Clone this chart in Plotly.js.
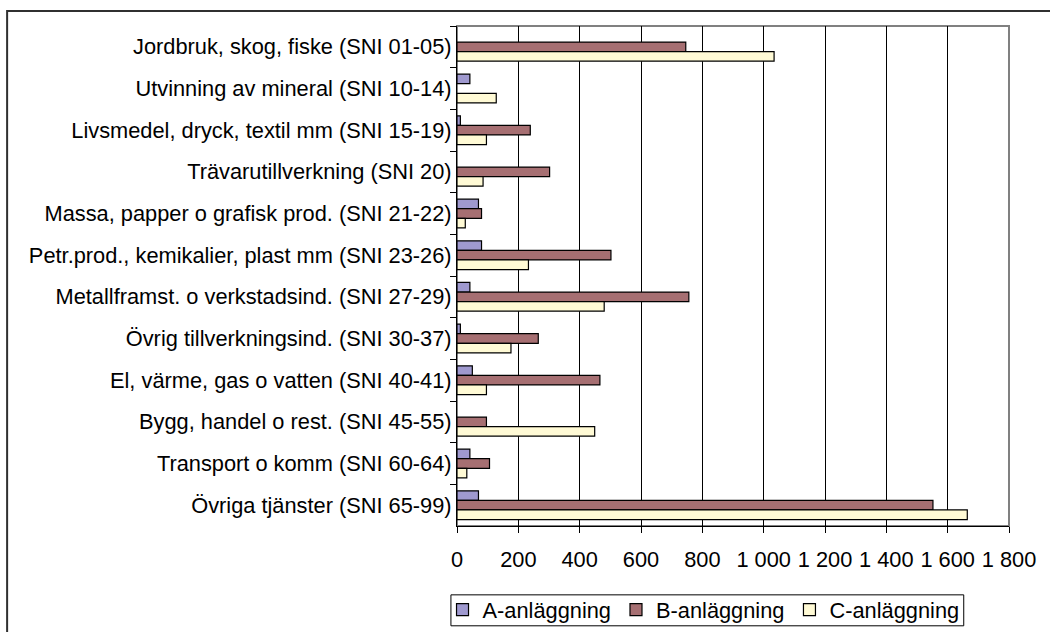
<!DOCTYPE html>
<html>
<head>
<meta charset="utf-8">
<script src="https://cdn.plot.ly/plotly-3.0.1.min.js"></script>
<style>html,body{margin:0;padding:0;background:#fff}#chart{width:1050px;height:632px}</style>
</head>
<body>
<div id="chart"></div>
<script>
const categories = [
  "Jordbruk, skog, fiske (SNI 01-05)",
  "Utvinning av mineral (SNI 10-14)",
  "Livsmedel, dryck, textil mm (SNI 15-19)",
  "Trävarutillverkning (SNI 20)",
  "Massa, papper o grafisk prod. (SNI 21-22)",
  "Petr.prod., kemikalier, plast mm (SNI 23-26)",
  "Metallframst. o verkstadsind. (SNI 27-29)",
  "Övrig tillverkningsind. (SNI 30-37)",
  "El, värme, gas o vatten (SNI 40-41)",
  "Bygg, handel o rest. (SNI 45-55)",
  "Transport o komm (SNI 60-64)",
  "Övriga tjänster (SNI 65-99)"
];
const seriesNames = ["A-anläggning", "B-anläggning", "C-anläggning"];
const valuesA = [null, 42, 11, null, 70, 80, 42, 11, 50, null, 42, 70];
const valuesB = [746, null, 239, 302, 80, 502, 756, 265, 466, 96, 106, 1552];
const valuesC = [1034, 128, 96, 85, 27, 233, 480, 176, 96, 449, 32, 1664];
const colors = ["#9F99CF", "#A66F72", "#FFFAD5"];
const xTicks = [0, 200, 400, 600, 800, 1000, 1200, 1400, 1600, 1800];

const allValues = [valuesA, valuesB, valuesC];
const traces = allValues.map((vals, i) => ({
  type: "bar",
  orientation: "h",
  name: seriesNames[i],
  y: categories,
  x: vals,
  marker: { color: colors[i], line: { color: "#000000", width: 1.2 } },
  hoverinfo: "x+y+name"
}));

const FONT = "Liberation Sans, Arial, sans-serif";
const FS = 21.8;
const layout = {
  width: 1050,
  height: 632,
  paper_bgcolor: "#ffffff",
  plot_bgcolor: "#ffffff",
  font: { family: FONT, size: FS, color: "#000000" },
  separators: ", ",
  margin: { l: 457, r: 41, t: 26, b: 106, pad: 0, autoexpand: false },
  barmode: "group",
  bargap: 0.31,
  bargroupgap: 0,
  showlegend: true,
  legend: {
    orientation: "h",
    x: 0.4466,
    xanchor: "center",
    y: -0.168,
    yanchor: "middle",
    borderwidth: 0,
    bgcolor: "rgba(0,0,0,0)",
    font: { family: FONT, size: FS, color: "#000000" },
    itemwidth: 30,
    traceorder: "normal"
  },
  xaxis: {
    range: [0, 1800],
    tickvals: xTicks,
    separatethousands: true,
    showgrid: true,
    gridcolor: "#000000",
    gridwidth: 1,
    showline: true,
    linecolor: "#000000",
    linewidth: 1,
    ticks: "outside",
    ticklen: 6,
    tickcolor: "#000000",
    ticklabelstandoff: 8,
    zeroline: false,
    fixedrange: true,
    tickfont: { family: FONT, size: FS, color: "#000000" }
  },
  yaxis: {
    type: "category",
    autorange: "reversed",
    showgrid: false,
    showline: true,
    linecolor: "#000000",
    linewidth: 1,
    ticks: "outside",
    tickson: "boundaries",
    ticklen: 6,
    tickcolor: "#000000",
    fixedrange: true,
    tickfont: { family: FONT, size: FS, color: "#000000" }
  },
  shapes: [
    {
      type: "rect", xref: "paper", yref: "paper",
      x0: 0, x1: 1, y0: 0, y1: 1,
      line: { color: "#808080", width: 2 },
      layer: "below"
    },
    {
      type: "rect", xref: "paper", yref: "paper",
      x0: -0.011, x1: 0.918, y0: -0.1996, y1: -0.1377,
      line: { color: "#000000", width: 1 },
      fillcolor: "rgba(0,0,0,0)",
      layer: "above"
    },
    {
      type: "rect", xref: "paper", yref: "paper",
      x0: -0.815, x1: 1.2, y0: -0.3, y1: 1.030,
      line: { color: "#303030", width: 2 },
      layer: "above"
    }
  ]
};

Plotly.newPlot("chart", traces, layout, { staticPlot: true, displayModeBar: false });
</script>
</body>
</html>
